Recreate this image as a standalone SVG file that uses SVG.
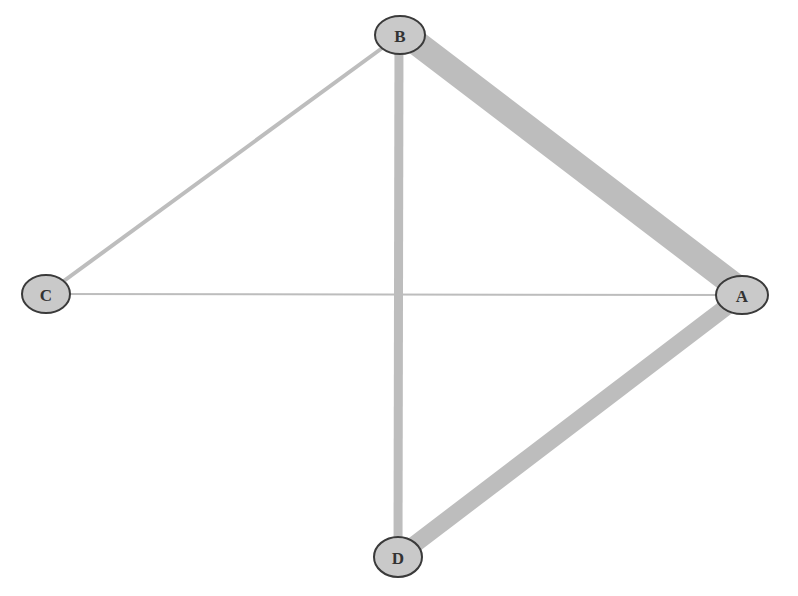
<svg xmlns="http://www.w3.org/2000/svg" width="798" height="596" viewBox="0 0 798 596">
<style>
.e{stroke:#bdbdbd;stroke-linecap:butt;fill:none}
.n ellipse{fill:#c9c9c9;stroke:#3a3a3a;stroke-width:2}
.n text{font-family:"Liberation Serif",serif;font-size:17px;font-weight:bold;fill:#333;text-anchor:middle;dominant-baseline:central}
</style>
<rect width="798" height="596" fill="#ffffff"/>
<g id="edges">
<line class="e" x1="46" y1="294" x2="742" y2="295" stroke-width="2"/>
<line class="e" x1="400" y1="35" x2="46" y2="294" stroke-width="4"/>
<line class="e" x1="399" y1="35" x2="398" y2="557" stroke-width="9"/>
<line class="e" x1="742" y1="295" x2="398" y2="557" stroke-width="17"/>
<line class="e" x1="405" y1="34" x2="742" y2="291" stroke-width="25"/>
</g>
<g id="node-B" class="n"><ellipse cx="400" cy="35" rx="25" ry="19"/><text x="400" y="36">B</text></g>
<g id="node-C" class="n"><ellipse cx="46" cy="294" rx="24" ry="19"/><text x="46" y="295">C</text></g>
<g id="node-A" class="n"><ellipse cx="742" cy="295" rx="26" ry="19"/><text x="742" y="296">A</text></g>
<g id="node-D" class="n"><ellipse cx="398" cy="557" rx="24" ry="20"/><text x="398" y="558">D</text></g>
</svg>
